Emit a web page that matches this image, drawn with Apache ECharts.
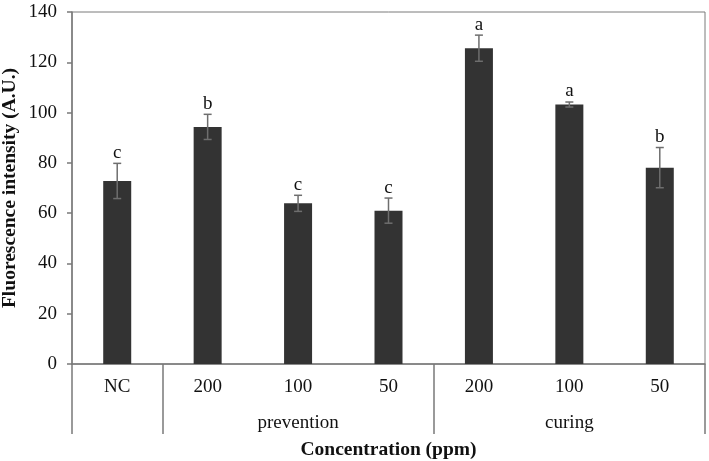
<!DOCTYPE html>
<html>
<head>
<meta charset="utf-8">
<script src="https://cdn.jsdelivr.net/npm/echarts@6/dist/echarts.min.js"></script>
<style>
html, body { margin: 0; padding: 0; background: #fff; }
#chart { width: 709px; height: 461px; }
</style>
</head>
<body>
<div id="chart"></div>
<script>
// data
var categories = ['NC', '200', '100', '50', '200', '100', '50'];
var groups = ['', 'prevention', 'prevention', 'prevention', 'curing', 'curing', 'curing'];
var groupLabelAt = [null, null, 'prevention', null, null, 'curing', null];
var values = [72.8, 94.3, 63.9, 61.0, 125.6, 103.2, 78.1];
var errors = [7.0, 5.0, 3.2, 5.0, 5.2, 1.0, 8.0];
var letters = ['c', 'b', 'c', 'c', 'a', 'a', 'b'];
var yTicks = [0, 20, 40, 60, 80, 100, 120, 140];

var font = "'Liberation Serif', 'Times New Roman', serif";
var axisGray = '#7a7a7a';

var errData = values.map(function (v, i) {
    return [i, v - errors[i], v + errors[i]];
});

var myChart = echarts.init(document.getElementById('chart'));
var option = {
    animation: false,
    grid: {
        left: 72,
        right: 4,
        top: 12,
        bottom: 97,
        outerBoundsMode: 'none',
        containLabel: false,
        show: true,
        borderColor: axisGray,
        borderWidth: 1
    },
    xAxis: [{
        type: 'category',
        data: categories,
        position: 'bottom',
        axisLine: { lineStyle: { color: axisGray, width: 1.5 } },
        axisTick: {
            show: true,
            length: 70,
            lineStyle: { color: axisGray, width: 1.5 },
            interval: function (i) { return i === 0 || i === 1 || i === 4 || i === 7; }
        },
        axisLabel: {
            interval: 0,
            margin: 14,
            color: '#111',
            fontFamily: font,
            fontSize: 19
        },
        name: 'Concentration (ppm)',
        nameLocation: 'middle',
        nameGap: 76,
        nameMoveOverlap: false,
        nameTextStyle: { color: '#111', fontFamily: font, fontSize: 19.5, fontWeight: 'bold' }
    }, {
        type: 'category',
        data: groups.map(function (g, i) { return g + i; }),
        position: 'bottom',
        axisLine: { show: false },
        axisTick: { show: false },
        axisLabel: {
            interval: 0,
            margin: 50,
            color: '#111',
            fontFamily: font,
            fontSize: 19,
            formatter: function (v, i) { return groupLabelAt[i] || ''; }
        }
    }],
    yAxis: {
        type: 'value',
        min: yTicks[0],
        max: yTicks[yTicks.length - 1],
        interval: 20,
        splitLine: { show: false },
        axisLine: { show: true, lineStyle: { color: axisGray, width: 1.5 } },
        axisTick: { show: true, length: 5, lineStyle: { color: axisGray, width: 1.5 } },
        axisLabel: {
            margin: 15,
            color: '#111',
            fontFamily: font,
            fontSize: 19
        },
        name: 'Fluorescence intensity (A.U.)',
        nameLocation: 'middle',
        nameGap: 52,
        nameMoveOverlap: false,
        nameTextStyle: { color: '#111', fontFamily: font, fontSize: 19.5, fontWeight: 'bold' }
    },
    series: [{
        type: 'bar',
        data: values,
        barWidth: 28,
        itemStyle: { color: '#333333' }
    }, {
        type: 'custom',
        data: errData,
        encode: { x: 0, y: [1, 2] },
        z: 5,
        renderItem: function (params, api) {
            var i = api.value(0);
            var lo = api.coord([i, api.value(1)]);
            var hi = api.coord([i, api.value(2)]);
            var cap = 4;
            var style = { stroke: '#6e6e6e', lineWidth: 1.5 };
            return {
                type: 'group',
                children: [
                    { type: 'line', shape: { x1: hi[0], y1: hi[1], x2: lo[0], y2: lo[1] }, style: style },
                    { type: 'line', shape: { x1: hi[0] - cap, y1: hi[1], x2: hi[0] + cap, y2: hi[1] }, style: style },
                    { type: 'line', shape: { x1: lo[0] - cap, y1: lo[1], x2: lo[0] + cap, y2: lo[1] }, style: style },
                    {
                        type: 'text',
                        x: hi[0],
                        y: hi[1] - 1,
                        style: {
                            text: letters[i],
                            fill: '#111',
                            font: '19px ' + font,
                            align: 'center',
                            verticalAlign: 'bottom'
                        }
                    }
                ]
            };
        }
    }]
};
myChart.setOption(option);
</script>
</body>
</html>
